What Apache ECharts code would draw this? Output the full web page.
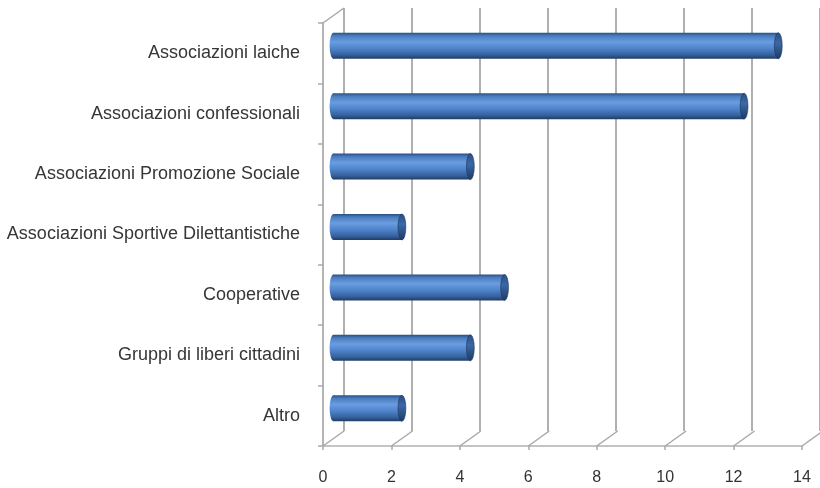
<!DOCTYPE html>
<html>
<head>
<meta charset="utf-8">
<script src="https://cdn.jsdelivr.net/npm/echarts@6/dist/echarts.min.js"></script>
<style>
html,body{margin:0;padding:0;background:#fff;}
#chart{width:820px;height:488px;}
</style>
</head>
<body>
<div id="chart"></div>
<script>
const categories = [
  'Associazioni laiche',
  'Associazioni confessionali',
  'Associazioni Promozione Sociale',
  'Associazioni Sportive Dilettantistiche',
  'Cooperative',
  'Gruppi di liberi cittadini',
  'Altro'
];
const values = [13, 12, 4, 2, 5, 4, 2];
const xTicks = [0, 2, 4, 6, 8, 10, 12, 14];

const DX = 21, DY = -15;
const FONT = '"Liberation Sans", Arial, sans-serif';

const chart = echarts.init(document.getElementById('chart'));

const bodyGrad = () => new echarts.graphic.LinearGradient(0, 0, 0, 1, [
  {offset: 0, color: '#2a4f82'},
  {offset: 0.12, color: '#4a7cc0'},
  {offset: 0.35, color: '#6a9de0'},
  {offset: 0.6, color: '#4f84cc'},
  {offset: 0.85, color: '#36619c'},
  {offset: 1, color: '#1f3c66'}
]);
const capGrad = () => new echarts.graphic.LinearGradient(0, 0, 0, 1, [
  {offset: 0, color: '#2a4e80'},
  {offset: 0.4, color: '#3b68a6'},
  {offset: 1, color: '#1e3a62'}
]);

chart.setOption({
  animation: false,
  backgroundColor: '#fff',
  grid: [
    {left: 323, top: 23, width: 479, height: 423},
    {left: 323 + DX, top: 23 + DY, width: 479, height: 423}
  ],
  xAxis: [
    {
      type: 'value', gridIndex: 0, min: 0, max: 14, interval: 2,
      axisLine: {show: true, lineStyle: {color: '#c4c4c4', width: 2}},
      axisTick: {show: true, length: 4, lineStyle: {color: '#aaa', width: 1.5}},
      axisLabel: {margin: 24, fontSize: 16, color: '#333', fontFamily: FONT},
      splitLine: {show: false}
    },
    {
      type: 'value', gridIndex: 1, min: 0, max: 14, interval: 2,
      axisLine: {show: false}, axisTick: {show: false}, axisLabel: {show: false},
      splitLine: {show: true, lineStyle: {color: '#9c9c9c', width: 1.6}}
    }
  ],
  yAxis: [
    {
      type: 'category', gridIndex: 0, data: categories, inverse: true,
      axisLine: {show: true, lineStyle: {color: '#b4b4b4', width: 2}},
      axisTick: {show: true, length: 5, alignWithLabel: false, lineStyle: {color: '#aaa', width: 1.5}},
      axisLabel: {margin: 23, fontSize: 18, color: '#363636', fontFamily: FONT, padding: [4, 0, 0, 0]}
    },
    {
      type: 'category', gridIndex: 1, data: categories, inverse: true, show: false
    }
  ],
  series: [
    {
      type: 'custom', xAxisIndex: 0, yAxisIndex: 0, z: 1,
      data: xTicks.map(v => [v, 0]),
      renderItem(params, api) {
        const cs = params.coordSys;
        const x = api.coord([api.value(0), 0])[0];
        const yb = cs.y + cs.height;
        const children = [{
          type: 'line',
          shape: {x1: x, y1: yb, x2: x + DX, y2: yb + DY},
          style: {stroke: '#a8a8a8', lineWidth: 1.5}
        }];
        if (api.value(0) === 0) {
          children.push({
            type: 'line',
            shape: {x1: x, y1: cs.y, x2: x + DX, y2: cs.y + DY},
            style: {stroke: '#a8a8a8', lineWidth: 1.5}
          });
        }
        return {type: 'group', children};
      }
    },
    {
      type: 'custom', xAxisIndex: 0, yAxisIndex: 0, z: 5,
      data: values.map((v, i) => [v, i]),
      encode: {x: 0, y: 1},
      renderItem(params, api) {
        const v = api.value(0), c = api.value(1);
        const p0 = api.coord([0, c]);
        const p1 = api.coord([v, c]);
        const band = api.size([0, 1])[1];
        const h = band * 0.43;
        const x0 = p0[0] + DX / 2;
        const x1 = p1[0] + DX / 2;
        const yc = p0[1] + DY / 2;
        const r = h / 2;
        const sx = 0.3;
        return {
          type: 'group',
          children: [
            {type: 'circle', x: x0, y: yc, scaleX: sx, shape: {cx: 0, cy: 0, r: r}, style: {fill: bodyGrad()}},
            {type: 'rect', shape: {x: x0, y: yc - r, width: x1 - x0, height: h}, style: {fill: bodyGrad()}},
            {type: 'circle', x: x1, y: yc, scaleX: sx, shape: {cx: 0, cy: 0, r: r}, style: {fill: capGrad(), stroke: '#1d3960', lineWidth: 1}}
          ]
        };
      }
    }
  ]
});
</script>
</body>
</html>
